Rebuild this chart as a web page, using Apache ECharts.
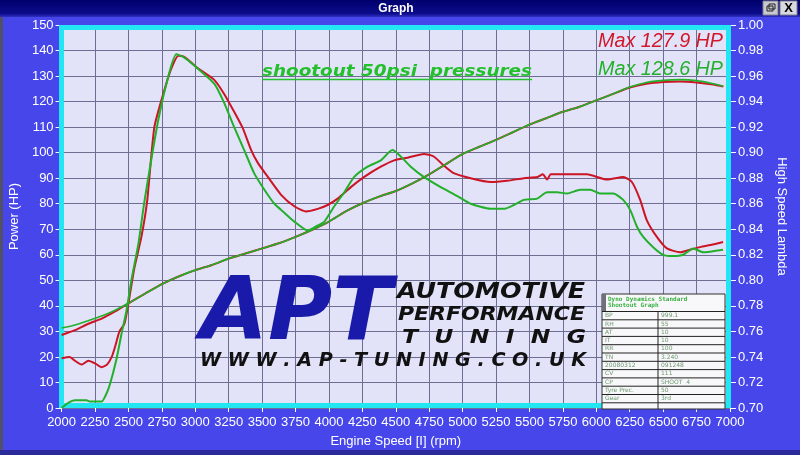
<!DOCTYPE html>
<html><head><meta charset="utf-8">
<script src="https://cdn.jsdelivr.net/npm/echarts@6.0.0/dist/echarts.min.js"></script>
<style>html,body{margin:0;padding:0;background:#4646ea;overflow:hidden}#c{width:800px;height:455px}</style>
</head><body><div id="c"></div>
<script>
// ---------- data ----------
const rpmPower = [2000,2100,2200,2300,2400,2500,2625,2750,2875,3000,3125,3250,3375,3500,3625,3750,3875,4000,4125,4250,4375,4500,4625,4750,4875,5000,5125,5250,5375,5500,5625,5750,5875,6000,6125,6250,6375,6500,6625,6750,6875,6950];
const powerRed   = [28.6,30.5,33,35,37.8,41,44.8,48.5,51.5,54,56,58.5,60.5,62.5,64.5,67,69.8,73,77,80.2,82.8,85,88,91.5,95.5,99.5,102.3,105,108,111,113.5,116,118,120.5,123,125.5,127,127.7,127.9,127.5,126.7,125.9];
const powerGreen = [31.3,32.5,34.2,36,38.3,41,44.8,48.5,51.5,54,56,58.5,60.5,62.5,64.5,67,69.8,73,77,80.2,82.8,85,88,91.5,95.5,99.5,102.3,105,108,111,113.5,116,118,120.5,123,125.7,127.5,128.3,128.6,128.2,127,126];

const rpmLambdaRed = [2000,2060,2100,2150,2200,2250,2300,2340,2375,2400,2433,2470,2500,2545,2597,2640,2694,2769,2821,2873,2918,3020,3142,3216,3291,3356,3418,3468,3543,3642,3741,3828,3916,3990,4065,4164,4264,4388,4488,4587,4709,4784,4858,4933,5060,5209,5333,5458,5560,5600,5632,5660,5781,5930,6080,6201,6266,6328,6378,6453,6528,6627,6700,6776,6870,6948];
const lambdaRed = [0.739,0.740,0.737,0.734,0.737,0.735,0.732,0.734,0.740,0.748,0.760,0.766,0.782,0.810,0.834,0.862,0.920,0.949,0.966,0.976,0.975,0.966,0.957,0.946,0.932,0.919,0.902,0.892,0.881,0.867,0.858,0.854,0.856,0.859,0.864,0.873,0.881,0.889,0.894,0.896,0.899,0.897,0.890,0.884,0.880,0.877,0.878,0.880,0.881,0.883,0.879,0.883,0.883,0.883,0.879,0.881,0.877,0.863,0.847,0.834,0.825,0.822,0.824,0.826,0.828,0.830];

const rpmLambdaGreen = [2000,2050,2100,2187,2210,2299,2330,2360,2410,2448,2485,2522,2575,2620,2724,2799,2858,2910,2995,3142,3216,3291,3366,3440,3517,3592,3666,3741,3841,3916,3966,4040,4115,4189,4289,4388,4475,4537,4612,4709,4836,4960,5060,5209,5308,5383,5458,5557,5632,5707,5781,5881,5955,6030,6127,6201,6254,6304,6351,6425,6500,6575,6650,6724,6799,6948];
const lambdaGreen = [0.700,0.704,0.706,0.706,0.705,0.705,0.710,0.718,0.738,0.758,0.776,0.800,0.829,0.862,0.926,0.960,0.977,0.975,0.968,0.954,0.939,0.920,0.902,0.884,0.871,0.860,0.853,0.846,0.839,0.843,0.846,0.858,0.869,0.881,0.889,0.894,0.902,0.897,0.889,0.881,0.873,0.866,0.860,0.856,0.856,0.859,0.863,0.864,0.869,0.869,0.868,0.871,0.871,0.868,0.868,0.863,0.855,0.842,0.834,0.826,0.820,0.819,0.820,0.825,0.822,0.824];

const maxRedText = 'Max 127.9 HP';
const maxGreenText = 'Max 128.6 HP';
const graphTitle = 'shootout 50psi  pressures';
const tableHeader = ['Dyno Dynamics Standard', 'Shootout Graph'];
const tableLabels = ['BP','RH','AT','IT','RR','TN','20080312','CV','CP','Tyre Prec.','Gear'];
const tableValues = ['999.1','55','10','10','100','3.240','091248','111','SHOOT  4','50','3rd'];

// ---------- helpers ----------
const mctx = document.createElement('canvas').getContext('2d');
function tw(text, font){ mctx.font = font; return mctx.measureText(text).width; }
function fitText(text, font, x1, x2, yc, fill, z){
  const w = tw(text, font);
  return {type:'text', x:x1, y:yc, scaleX:(x2-x1)/w, z:z||1, silent:true,
    style:{text:text, font:font, fill:fill, align:'left', verticalAlign:'middle'}};
}
function pairs(xs, ys){ return xs.map((x,i)=>[x, ys[i]]); }

const chart = echarts.init(document.getElementById('c'), null, {renderer:'canvas'});

const RED = '#cc1424', GREEN = '#22b02a';
const els = [];
// window chrome
els.push({type:'rect', z:0, silent:true, shape:{x:0,y:0,width:800,height:17},
  style:{fill:new echarts.graphic.LinearGradient(0,0,0,1,[{offset:0,color:'#00006c'},{offset:0.8,color:'#0c0c8c'},{offset:1,color:'#3030c0'}])}});
els.push({type:'text', z:1, silent:true, x:396, y:8.5, style:{text:'Graph', font:'bold 12px "Liberation Sans", Arial', fill:'#ffffff', align:'center', verticalAlign:'middle'}});
els.push({type:'rect', z:1, silent:true, shape:{x:763,y:1,width:15,height:14}, style:{fill:'#c8c8d0', stroke:'#808090', lineWidth:1}});
els.push({type:'rect', z:1, silent:true, shape:{x:767,y:6,width:6,height:5}, style:{fill:'none', stroke:'#202020', lineWidth:1}});
els.push({type:'rect', z:1, silent:true, shape:{x:769,y:4,width:6,height:5}, style:{fill:'none', stroke:'#202020', lineWidth:1}});
els.push({type:'rect', z:1, silent:true, shape:{x:780,y:1,width:17,height:14}, style:{fill:'#d8d8e0', stroke:'#808090', lineWidth:1}});
els.push({type:'text', z:1, silent:true, x:788.5, y:8.5, style:{text:'X', font:'bold 13px "Liberation Sans", Arial', fill:'#000000', align:'center', verticalAlign:'middle'}});
els.push({type:'rect', z:0, silent:true, shape:{x:0,y:17,width:3,height:438}, style:{fill:'#505068'}});
els.push({type:'rect', z:0, silent:true, shape:{x:0,y:450,width:800,height:5}, style:{fill:'#2a2a9a'}});
// cyan frame
els.push({type:'rect', z:1, silent:true, shape:{x:61.5,y:27.5,width:667,height:378}, style:{fill:'none', stroke:'#22e6f2', lineWidth:5}});
// texts in plot
els.push(fitText(graphTitle, 'italic bold 16px "DejaVu Sans"', 262, 532, 72, '#22c02a', 1));
els.push({type:'line', z:1, silent:true, shape:{x1:262,y1:79.5,x2:532,y2:79.5}, style:{stroke:'#22c02a', lineWidth:1.5}});
els.push(fitText(maxRedText, 'italic 20px "Liberation Sans"', 598, 723, 41, '#d0182a', 1));
els.push(fitText(maxGreenText, 'italic 20px "Liberation Sans"', 598, 723, 69, '#22b02a', 1));
// logo
els.push(fitText('APT', 'italic bold 88px "DejaVu Sans"', 200, 392, 316, '#1a1aaa', 1));
els.push(fitText('AUTOMOTIVE', 'italic bold 22px "DejaVu Sans"', 397, 585, 292, '#111111', 1));
els.push(fitText('PERFORMANCE', 'italic bold 20px "DejaVu Sans"', 398, 585, 315, '#111111', 1));
els.push(fitText('T  U  N  I  N  G', 'italic bold 20px "DejaVu Sans"', 402, 586, 338, '#111111', 1));
els.push(fitText('W W W . A P - T U N I N G . C O . U K', 'italic bold 20px "DejaVu Sans"', 200, 586, 361, '#111111', 1));
// table
const tx1 = 602, tx2 = 725, ty = 294, colX = 658, rowTop = 311.5, rowH = 8.3;
els.push({type:'rect', z:1, silent:true, shape:{x:tx1,y:ty,width:tx2-tx1,height:409-ty}, style:{fill:'#f8f8fa', stroke:'#303030', lineWidth:1}});
els.push({type:'rect', z:1, silent:true, shape:{x:tx1,y:ty,width:4,height:rowTop-ty}, style:{fill:'#707078'}});
els.push({type:'text', z:1, silent:true, x:608, y:299, style:{text:tableHeader[0], font:'bold 6px "DejaVu Sans Mono"', fill:'#38b040', align:'left', verticalAlign:'middle'}});
els.push({type:'text', z:1, silent:true, x:608, y:305, style:{text:tableHeader[1], font:'bold 6px "DejaVu Sans Mono"', fill:'#38b040', align:'left', verticalAlign:'middle'}});
for (let i = 0; i <= tableLabels.length; i++) {
  const y = rowTop + i*rowH;
  els.push({type:'line', z:1, silent:true, shape:{x1:tx1,y1:y,x2:tx2,y2:y}, style:{stroke:'#222222', lineWidth:1}});
}
els.push({type:'line', z:1, silent:true, shape:{x1:colX,y1:rowTop,x2:colX,y2:409}, style:{stroke:'#222222', lineWidth:1}});
tableLabels.forEach((lab,i)=>{
  const yc = rowTop + i*rowH + rowH/2;
  els.push({type:'text', z:1, silent:true, x:605, y:yc, style:{text:lab, font:'6px "DejaVu Sans"', fill:'#6f9870', align:'left', verticalAlign:'middle'}});
  els.push({type:'text', z:1, silent:true, x:661, y:yc, style:{text:tableValues[i], font:'6px "DejaVu Sans"', fill:'#6f9870', align:'left', verticalAlign:'middle'}});
});

const labelStyle = {color:'#ffffff', fontSize:13, fontFamily:'"Liberation Sans", Arial'};
const option = {
  backgroundColor:'#4646ea',
  animation:false,
  grid:{left:60, right:70, top:25, bottom:47, show:true, backgroundColor:'#e2e2f8', borderWidth:0},
  xAxis:{type:'value', min:2000, max:7000, interval:250,
    axisLine:{show:false}, axisTick:{show:true, length:4, lineStyle:{color:'#ffffff'}},
    axisLabel:Object.assign({margin:8, formatter:v=>String(v)}, labelStyle),
    splitLine:{show:true, lineStyle:{color:'#6e6e92', width:1}},
    name:'Engine Speed [I] (rpm)', nameLocation:'middle', nameGap:27, nameTextStyle:labelStyle},
  yAxis:[
    {type:'value', position:'left', min:0, max:150, interval:10,
     axisLine:{show:false}, axisTick:{show:true, length:6, lineStyle:{color:'#ffffff'}},
     axisLabel:Object.assign({margin:8, formatter:v=>String(v)}, labelStyle),
     splitLine:{show:true, lineStyle:{color:'#6e6e92', width:1}},
     name:'Power (HP)', nameLocation:'middle', nameGap:40, nameRotate:90, nameTextStyle:labelStyle},
    {type:'value', position:'right', min:0.70, max:1.00, interval:0.02,
     axisLine:{show:false}, axisTick:{show:true, length:6, lineStyle:{color:'#ffffff'}},
     axisLabel:Object.assign({margin:8, formatter:v=>v.toFixed(2)}, labelStyle),
     splitLine:{show:false},
     name:'High Speed Lambda', nameLocation:'middle', nameGap:45, nameRotate:-90, nameTextStyle:labelStyle}
  ],
  series:[
    {name:'Power red', type:'line', yAxisIndex:0, data:pairs(rpmPower,powerRed), showSymbol:false, smooth:0.2, lineStyle:{color:RED, width:2}, z:3},
    {name:'Lambda red', type:'line', yAxisIndex:1, data:pairs(rpmLambdaRed,lambdaRed), showSymbol:false, smooth:0.2, lineStyle:{color:RED, width:2}, z:3},
    {name:'Power green', type:'line', yAxisIndex:0, data:pairs(rpmPower,powerGreen), showSymbol:false, smooth:0.2, lineStyle:{color:GREEN, width:1.6}, z:4},
    {name:'Lambda green', type:'line', yAxisIndex:1, data:pairs(rpmLambdaGreen,lambdaGreen), showSymbol:false, smooth:0.2, lineStyle:{color:GREEN, width:2}, z:4}
  ],
  graphic:{elements:els}
};
chart.setOption(option);
</script></body></html>
